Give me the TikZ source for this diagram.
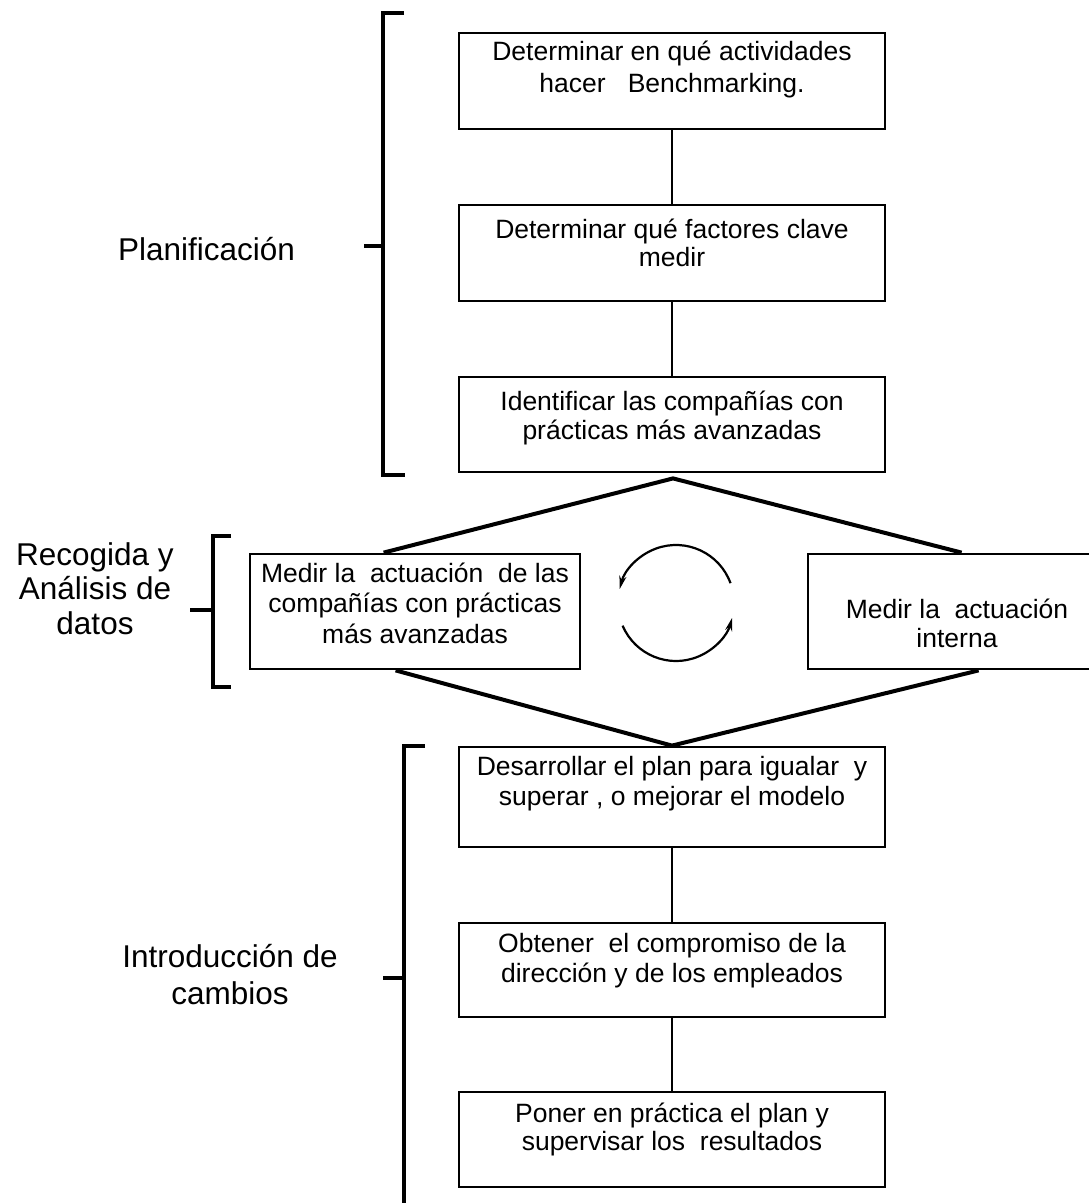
\documentclass[tikz,border=0pt]{standalone}
\usepackage{fontspec}
\setmainfont{Liberation Sans}
\usetikzlibrary{arrows.meta}
\begin{document}
\begin{tikzpicture}[x=1pt,y=-1pt,
  stepbox/.style={draw, line width=2.8pt, inner sep=0pt},
  link/.style={line width=2.8pt},
  rim/.style={line width=4pt, line join=miter},
  bracket/.style={line width=4pt},
  boxtext/.style={anchor=north, inner sep=0pt, align=center,
    font=\fontsize{26.5}{#1}\selectfont},
  boxtext/.default=30,
  phase/.style={anchor=north, inner sep=0pt, align=center,
    font=\fontsize{31.5}{#1}\selectfont},
  phase/.default=35,
  cyclearrow/.style={line width=2.2pt, -{Stealth[length=13pt,width=7pt]}}]

% page
\useasboundingbox (0,0) rectangle (1089,1203);
\fill[white] (0,0) rectangle (1089,1203);
\clip (0,0) rectangle (1089,1203);

% planning steps
\node[stepbox, minimum width=426pt, minimum height=96pt] (b1) at (672,81) {};
\node[stepbox, minimum width=426pt, minimum height=96pt] (b2) at (672,253) {};
\node[stepbox, minimum width=426pt, minimum height=95pt] (b3) at (672,424.5) {};
\node[boxtext=32] (t1) at (672,37.6) {\strut Determinar en qué actividades\\hacer\ \ \ Benchmarking.};
\node[boxtext=28] (t2) at (672,218.4) {\strut Determinar qué factores clave\\medir};
\node[boxtext=27] (t3) at (672,391.1) {\strut Identificar las compañías con\\prácticas más avanzadas};
\draw[link] (b1.south) -- (b2.north);
\draw[link] (b2.south) -- (b3.north);

% data collection and analysis
\node[stepbox, minimum width=330pt, minimum height=115pt] (lb) at (415,611.5) {};
\node[stepbox, minimum width=292pt, minimum height=115pt] (rb) at (954,611.5) {};
\node[boxtext=30.5] (tl) at (415,560.6) {\strut Medir la\ \ actuación\ \ de las\\compañías con prácticas\\más avanzadas};
\node[boxtext=29] (tr) at (957,597.7) {\strut Medir la\ \ actuación\\interna};

\coordinate (dTL) at ([xshift=135pt]lb.north west);
\coordinate (dBL) at ([xshift=147pt]lb.south west);
\coordinate (dTR) at ([xshift=155pt]rb.north west);
\coordinate (dBR) at ([xshift=172pt]rb.south west);
\coordinate (dTop) at ([xshift=1pt,yshift=-5pt]b3.south);

% change steps
\node[stepbox, minimum width=426pt, minimum height=100pt] (b4) at (672,797) {};
\node[stepbox, minimum width=426pt, minimum height=94pt] (b5) at (672,970) {};
\node[stepbox, minimum width=426pt, minimum height=95pt] (b6) at (672,1139.5) {};
\node[boxtext=30] (t4) at (672,754) {\strut Desarrollar el plan para igualar\ \ y\\superar , o mejorar el modelo};
\node[boxtext=30] (t5) at (672,931) {\strut Obtener\ \ el compromiso de la\\dirección y de los empleados};
\node[boxtext=28] (t6) at (672,1102.4) {\strut Poner en práctica el plan y\\supervisar los\ \ resultados};
\draw[link] (b4.south) -- (b5.north);
\draw[link] (b5.south) -- (b6.north);

% hexagon joining the planning and change columns
\draw[rim] (dTL) -- (dTop) -- (dTR);
\draw[rim] (dBL) -- (b4.north) -- (dBR);

% measurement cycle
\coordinate (cyc) at (676,603);
\draw[cyclearrow] (cyc) ++(20:58pt) arc[start angle=20, end angle=166, radius=58pt];
\draw[cyclearrow] (cyc) ++(203:58pt) arc[start angle=203, end angle=345, radius=58pt];

% phase brackets
\draw[bracket] (404,13) -- (383,13) -- (383,475) -- (405,475);
\draw[bracket] (383,246) -- (364,246);
\draw[bracket] (231,536) -- (213,536) -- (213,687) -- (231,687);
\draw[bracket] (213,610) -- (190,610);
\draw[bracket] (425,746) -- (404,746) -- (404,1210);
\draw[bracket] (404,978) -- (383,978);

% phase labels
\node[phase, anchor=base] (p1) at (206.5,260) {Planificación};
\node[phase=34.5] (p2) at (95,540.9) {\strut Recogida y\\Análisis de\\datos};
\node[phase=37.7] (p3) at (230,940.6) {\strut Introducción de\\cambios};
\end{tikzpicture}
\end{document}
